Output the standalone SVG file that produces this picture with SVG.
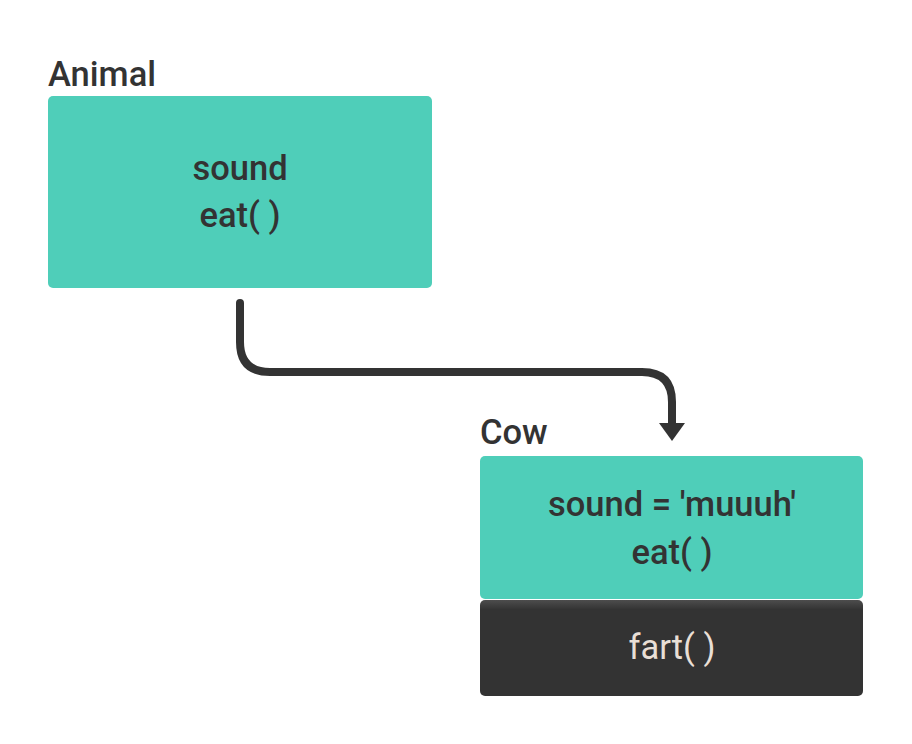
<svg xmlns="http://www.w3.org/2000/svg" width="912" height="744" viewBox="0 0 912 744">
  <defs>
    <style>
      text { font-family: Roboto, "Liberation Sans", Arial, sans-serif; font-weight: 500; font-size: 34.5px; fill: #333333; }
      .c { text-anchor: middle; }
      .light { fill: #e9dfd6; font-weight: 400; }
      .teal { fill: #4fceb9; }
      .edge { fill: none; stroke: #333333; stroke-width: 8; stroke-linecap: round; stroke-linejoin: round; }
    </style>
    <linearGradient id="darkFill" x1="0" y1="0" x2="0" y2="1">
      <stop offset="0" stop-color="#4d4d4d"/>
      <stop offset="0.1" stop-color="#333333"/>
      <stop offset="1" stop-color="#333333"/>
    </linearGradient>
  </defs>

  <g id="animal">
    <text x="48" y="86">Animal</text>
    <rect class="teal" x="48" y="96" width="384" height="192" rx="5"/>
    <text class="c" x="240" y="180">sound</text>
    <text class="c" x="240" y="227">eat( )</text>
  </g>

  <g id="cow">
    <text x="480" y="444">Cow</text>
    <rect class="teal" x="480" y="456" width="383" height="143" rx="5"/>
    <text class="c" x="672" y="516">sound = 'muuuh'</text>
    <text class="c" x="672" y="564">eat( )</text>
    <rect x="480" y="600" width="383" height="96" rx="5" fill="url(#darkFill)"/>
    <text class="c light" x="672" y="659">fart( )</text>
  </g>

  <g id="connectors">
    <path class="edge" d="M240,303 L240,342 Q240,372 270,372 L642,372 Q672,372 672,402 L672,424"/>
    <path d="M659,423 L685,423 L672,441 Z" fill="#333333"/>
  </g>
</svg>
